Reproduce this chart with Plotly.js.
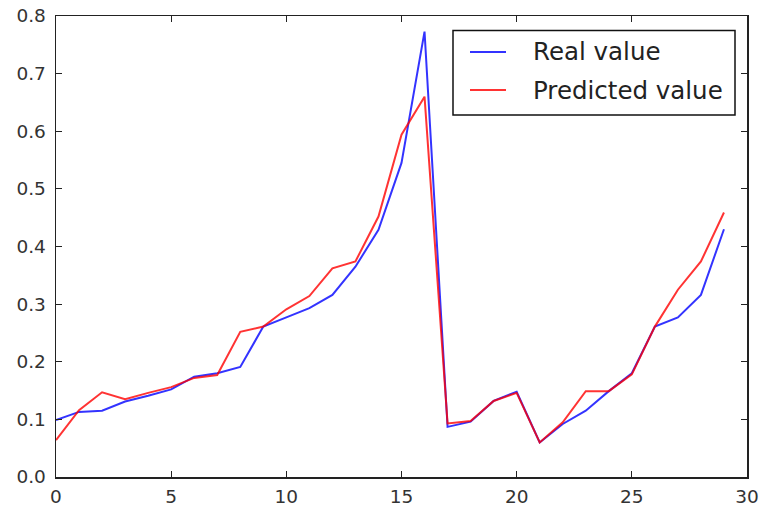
<!DOCTYPE html>
<html>
<head>
<meta charset="utf-8">
<script src="https://cdn.plot.ly/plotly-3.0.1.min.js"></script>
<style>html,body{margin:0;padding:0;background:#fff;}#chart{width:759px;height:509px;}</style>
</head>
<body>
<div id="chart"></div>
<script>
const steps = [0,1,2,3,4,5,6,7,8,9,10,11,12,13,14,15,16,17,18,19,20,21,22,23,24,25,26,27,28,29];
const realValue = [0.099,0.113,0.115,0.131,0.141,0.152,0.174,0.180,0.191,0.261,0.277,0.293,0.316,0.365,0.429,0.545,0.773,0.087,0.096,0.132,0.148,0.060,0.092,0.115,0.149,0.180,0.261,0.277,0.316,0.430];
const predictedValue = [0.064,0.116,0.147,0.135,0.146,0.156,0.172,0.177,0.252,0.261,0.291,0.314,0.362,0.374,0.452,0.594,0.660,0.093,0.097,0.132,0.146,0.060,0.095,0.149,0.149,0.178,0.261,0.325,0.374,0.459];
const seriesNames = ["Real value", "Predicted value"];
const seriesColors = ["rgba(0,0,255,0.8)", "rgba(255,0,0,0.8)"];
const xTicks = [0,5,10,15,20,25,30];
const yTicks = [0.0,0.1,0.2,0.3,0.4,0.5,0.6,0.7,0.8];

const W = 759, H = 509;
const M = {l: 56, r: 12, t: 16, b: 32};
const PW = W - M.l - M.r, PH = H - M.t - M.b;
const px = X => (X - M.l) / PW;
const py = Y => (H - M.b - Y) / PH;

const traces = [
  {x: steps, y: realValue, name: seriesNames[0], type: 'scatter', mode: 'lines',
   line: {color: seriesColors[0], width: 2}},
  {x: steps, y: predictedValue, name: seriesNames[1], type: 'scatter', mode: 'lines',
   line: {color: seriesColors[1], width: 2}}
];

const axisCommon = {
  showline: true, mirror: 'ticks', linecolor: '#222', linewidth: 1.5,
  ticks: 'inside', ticklen: 6, tickwidth: 1.2, tickcolor: '#222',
  showgrid: false, zeroline: false,
  tickfont: {family: 'DejaVu Sans', size: 18.5, color: '#333'}
};

// legend (matplotlib style) built as shapes + annotations
const legBox = {x0: 453, x1: 735, y0: 30.5, y1: 115};
const rowY = [52, 90];
const shapes = [{type: 'rect', xref: 'paper', yref: 'paper',
  x0: px(legBox.x0), x1: px(legBox.x1), y0: py(legBox.y1), y1: py(legBox.y0),
  line: {color: '#111', width: 1.5}, fillcolor: '#fff', layer: 'above'}];
const annotations = [];
seriesNames.forEach((name, i) => {
  shapes.push({type: 'line', xref: 'paper', yref: 'paper',
    x0: px(470), x1: px(506), y0: py(rowY[i]), y1: py(rowY[i]),
    line: {color: seriesColors[i], width: 2}, layer: 'above'});
  annotations.push({xref: 'paper', yref: 'paper', x: px(531), y: py(rowY[i]),
    xanchor: 'left', yanchor: 'middle', showarrow: false, text: name,
    font: {family: 'DejaVu Sans', size: 24.5, color: '#222'}});
});

const layout = {
  width: W, height: H, margin: M,
  paper_bgcolor: '#fff', plot_bgcolor: '#fff',
  xaxis: Object.assign({}, axisCommon, {range: [0, 30], tickvals: xTicks, ticktext: xTicks.map(String), ticklabelstandoff: 2}),
  yaxis: Object.assign({}, axisCommon, {range: [0, 0.8], tickvals: yTicks, ticktext: yTicks.map(v => v.toFixed(1)), ticklabelstandoff: 5}),
  showlegend: false,
  shapes: shapes,
  annotations: annotations
};

Plotly.newPlot('chart', traces, layout, {displayModeBar: false, staticPlot: true});
</script>
</body>
</html>
